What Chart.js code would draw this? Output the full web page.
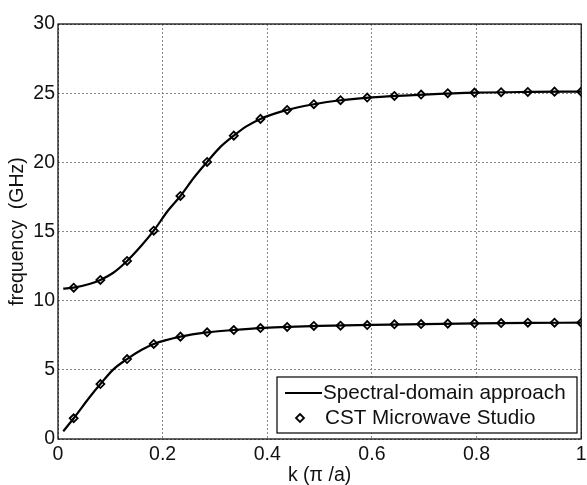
<!DOCTYPE html>
<html>
<head>
<meta charset="utf-8">
<script src="https://cdn.jsdelivr.net/npm/chart.js@4.4.1/dist/chart.umd.min.js"></script>
<style>
  html, body { margin: 0; padding: 0; background: #fff; }
  #wrap { width: 587px; height: 485px; }
</style>
</head>
<body>
<div id="wrap"><canvas id="c" width="587" height="485"></canvas></div>
<script>
// spectral-domain curves
const lineK1 = [0.01, 0.03, 0.06, 0.081, 0.105, 0.132, 0.16, 0.183, 0.234, 0.285, 0.336, 0.387, 0.438, 0.5, 0.6, 0.7, 0.8, 0.9, 1.0];
const lineF1 = [0.55, 1.5, 3.0, 3.97, 5.0, 5.78, 6.45, 6.87, 7.40, 7.71, 7.88, 8.02, 8.10, 8.18, 8.25, 8.31, 8.36, 8.39, 8.41];
const lineK2 = [0.01, 0.03, 0.06, 0.081, 0.105, 0.132, 0.16, 0.183, 0.21, 0.234, 0.26, 0.285, 0.31, 0.336, 0.36, 0.387, 0.438, 0.489, 0.54, 0.6, 0.7, 0.8, 0.9, 1.0];
const lineF2 = [10.87, 10.94, 11.2, 11.5, 12.0, 12.87, 14.0, 15.06, 16.5, 17.57, 18.9, 20.03, 21.1, 21.93, 22.6, 23.14, 23.79, 24.2, 24.49, 24.7, 24.9, 25.04, 25.09, 25.11];

// CST markers
const cstK = [0.03, 0.081, 0.132, 0.183, 0.234, 0.285, 0.336, 0.387, 0.438, 0.489, 0.540, 0.591, 0.643, 0.694, 0.745, 0.796, 0.847, 0.898, 0.949, 1.0];
const cstF1 = [1.50, 3.97, 5.78, 6.87, 7.40, 7.71, 7.88, 8.02, 8.10, 8.17, 8.19, 8.24, 8.29, 8.31, 8.34, 8.36, 8.38, 8.41, 8.41, 8.41];
const cstF2 = [10.94, 11.5, 12.87, 15.06, 17.57, 20.03, 21.93, 23.14, 23.79, 24.2, 24.49, 24.68, 24.80, 24.90, 25.0, 25.04, 25.07, 25.09, 25.11, 25.11];

const xTicks = [0, 0.2, 0.4, 0.6, 0.8, 1];
const yTicks = [0, 5, 10, 15, 20, 25, 30];
const legendLabels = ['Spectral-domain approach', 'CST Microwave Studio'];

const FONT = 'Liberation Sans, Arial, sans-serif';
const pts = (xs, ys) => xs.map((x, i) => ({ x: x, y: ys[i] }));

const lineStyle = { showLine: true, borderColor: '#000', borderWidth: 2.2, pointRadius: 0, tension: 0.4, cubicInterpolationMode: 'monotone', fill: false };
const markStyle = { showLine: false, pointStyle: 'rectRot', pointRadius: 4, borderColor: '#000', pointBorderWidth: 1.8, backgroundColor: '#fff', pointBackgroundColor: '#fff' };

// frame + legend drawn on canvas
const framePlugin = {
  id: 'frame',
  afterDraw(chart) {
    const ctx = chart.ctx, a = chart.chartArea;
    ctx.save();
    ctx.strokeStyle = '#000';
    ctx.lineWidth = 1.2;
    ctx.strokeRect(a.left, a.top, a.right - a.left, a.bottom - a.top);

    // legend box
    const bx = 277, by = 377, bw = 300, bh = 56;
    ctx.fillStyle = '#fff';
    ctx.fillRect(bx, by, bw, bh);
    ctx.strokeRect(bx, by, bw, bh);
    ctx.beginPath();
    ctx.lineWidth = 2.2;
    ctx.moveTo(285, 393); ctx.lineTo(322, 393);
    ctx.stroke();
    // diamond marker
    ctx.lineWidth = 1.8;
    ctx.beginPath();
    ctx.moveTo(300, 414); ctx.lineTo(304, 418); ctx.lineTo(300, 422); ctx.lineTo(296, 418); ctx.closePath();
    ctx.fill(); ctx.stroke();
    ctx.fillStyle = '#111';
    ctx.font = '20.7px ' + FONT;
    ctx.textBaseline = 'middle';
    ctx.fillText(legendLabels[0], 323, 393);
    ctx.fillText(legendLabels[1], 325, 418);
    ctx.restore();
  }
};

new Chart(document.getElementById('c'), {
  type: 'scatter',
  data: {
    datasets: [
      Object.assign({ label: legendLabels[0], data: pts(lineK1, lineF1) }, lineStyle),
      Object.assign({ label: legendLabels[0], data: pts(lineK2, lineF2) }, lineStyle),
      Object.assign({ label: legendLabels[1], data: pts(cstK, cstF1) }, markStyle),
      Object.assign({ label: legendLabels[1], data: pts(cstK, cstF2) }, markStyle)
    ]
  },
  options: {
    responsive: false,
    animation: false,
    layout: { padding: { top: 24, right: 4, left: 0, bottom: 0 } },
    plugins: { legend: { display: false }, tooltip: { enabled: false } },
    scales: {
      x: {
        type: 'linear', min: 0, max: 1,
        afterBuildTicks: s => { s.ticks = xTicks.map(v => ({ value: v })); },
        afterFit: s => { s.height = 46; s.paddingLeft = 0; s.paddingRight = 0; },
        ticks: { color: '#111', padding: 4, maxRotation: 0, font: { family: FONT, size: 19.5 }, callback: v => String(v) },
        grid: { color: '#888', lineWidth: 1, drawTicks: false },
        border: { display: false, dash: [2, 2] },
        title: { display: true, text: 'k (π /a)', color: '#111', padding: { top: 0, bottom: -2 }, font: { family: FONT, size: 19.5 } }
      },
      y: {
        min: 0, max: 30,
        afterBuildTicks: s => { s.ticks = yTicks.map(v => ({ value: v })); },
        afterFit: s => { s.width = 58; },
        ticks: { color: '#111', padding: 3, font: { family: FONT, size: 19.5 } },
        grid: { color: '#888', lineWidth: 1, drawTicks: false },
        border: { display: false, dash: [2, 2] },
        title: { display: true, text: 'frequency  (GHz)', color: '#111', padding: { top: 6, bottom: 0 }, font: { family: FONT, size: 19.5 } }
      }
    }
  },
  plugins: [framePlugin]
});
</script>
</body>
</html>
